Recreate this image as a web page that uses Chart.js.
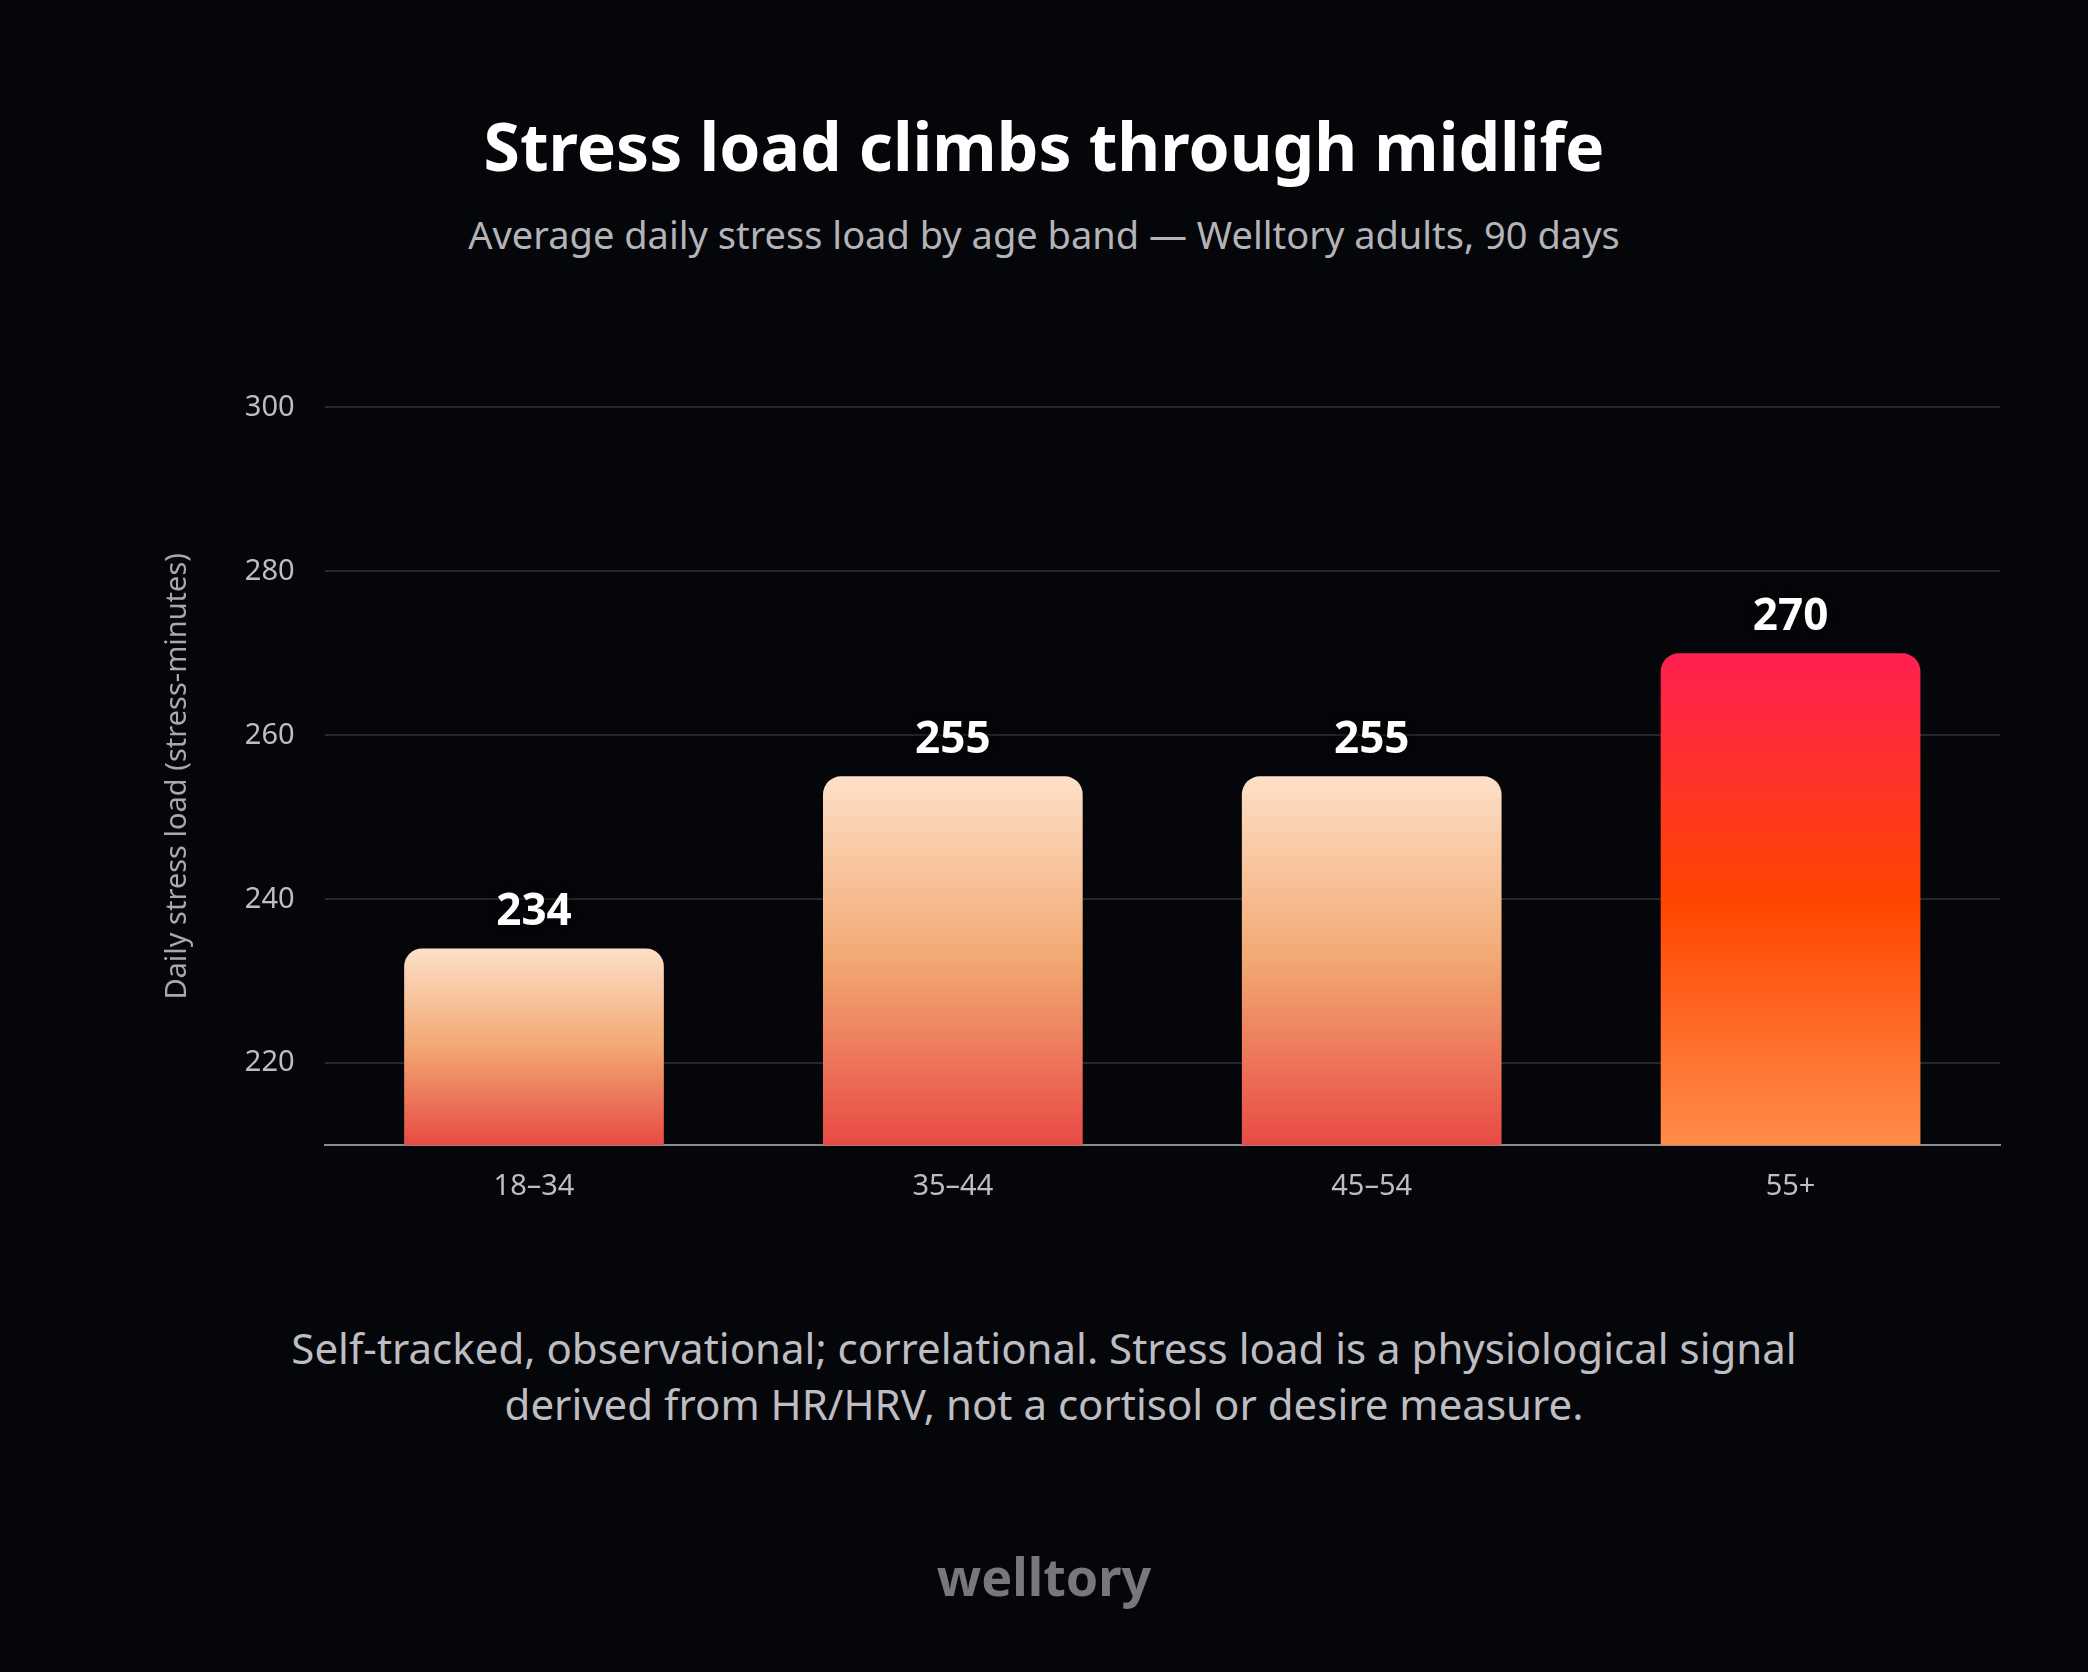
<!DOCTYPE html>
<html>
<head>
<meta charset="utf-8">
<script src="https://cdn.jsdelivr.net/npm/chart.js@4/dist/chart.umd.min.js"></script>
<style>
  body { margin:0; background:#05060a; width:2088px; height:1672px; overflow:hidden; font-family:"Noto Sans", sans-serif; }
  .t { position:absolute; left:0; width:2088px; text-align:center; }
  #title { top:100px; font-size:66px; font-weight:700; color:#fff; }
  #sub { top:208px; font-size:38px; color:#b4b4b8; }
  #foot { top:1320px; font-size:42px; color:#bdbdc2; line-height:56px; }
  #logo { top:1540px; font-size:52px; font-weight:700; color:#77777c; }
  #wrap { position:absolute; left:140px; top:360px; width:1880px; height:870px; }
</style>
</head>
<body>
<div class="t" id="title">Stress load climbs through midlife</div>
<div class="t" id="sub">Average daily stress load by age band — Welltory adults, 90 days</div>
<div id="wrap"><canvas id="c"></canvas></div>
<div class="t" id="foot">Self-tracked, observational; correlational. Stress load is a physiological signal<br>derived from HR/HRV, not a cortisol or desire measure.</div>
<div class="t" id="logo">welltory</div>
<script>
// donnees
var ageBands = ['18–34', '35–44', '45–54', '55+'];
var stressLoad = [234, 255, 255, 270];
var yTicks = [220, 240, 260, 280, 300];
var yMin = 210, yMax = 300;

function barGradient(c) {
	var chart = c.chart;
	if (!chart.chartArea) return '#f2a872';
	var y = chart.scales.y;
	var top = y.getPixelForValue(c.raw);
	var bottom = y.getPixelForValue(yMin);
	var g = chart.ctx.createLinearGradient(0, top, 0, bottom);
	if (c.dataIndex == 3) {
		g.addColorStop(0, '#ff1f52');
		g.addColorStop(0.5, '#ff4500');
		g.addColorStop(1, '#ff8c4a');
	} else {
		g.addColorStop(0, '#fde0c8');
		g.addColorStop(0.5, '#f2a872');
		g.addColorStop(1, '#e84a45');
	}
	return g;
}

// etiquettes de valeur au dessus des barres
var valueLabels = {
	id: 'valueLabels',
	afterDatasetsDraw(chart) {
		var ctx = chart.ctx;
		var meta = chart.getDatasetMeta(0);
		ctx.save();
		ctx.font = '700 44px "Noto Sans"';
		ctx.textAlign = 'center';
		ctx.textBaseline = 'bottom';
		ctx.fillStyle = '#fff';
		ctx.shadowColor = 'rgba(0,0,0,0.9)';
		ctx.shadowBlur = 12;
		meta.data.forEach(function(bar, i) {
			ctx.fillText(stressLoad[i], bar.x, bar.y - 14);
		});
		ctx.restore();
	}
};

new Chart(document.getElementById('c').getContext('2d'), {
	type: 'bar',
	data: {
		labels: ageBands,
		datasets: [{
			data: stressLoad,
			backgroundColor: barGradient,
			borderRadius: 18,
			borderSkipped: false,
			categoryPercentage: 0.62,
			barPercentage: 1
		}]
	},
	options: {
		responsive: true,
		maintainAspectRatio: false,
		animation: false,
		layout: { padding: { top: 20, right: 20, bottom: 10 } },
		plugins: { legend: { display: false }, tooltip: { enabled: false } },
		scales: {
			x: {
				grid: { display: false },
				border: { color: '#8a8a90', width: 2 },
				ticks: { color: '#bdbdc2', font: { size: 29, family: 'Noto Sans' }, padding: 16 }
			},
			y: {
				min: yMin, max: yMax,
				afterBuildTicks: function(s) { s.ticks = yTicks.map(function(v) { return { value: v }; }); },
				grid: { color: '#26272c', lineWidth: 2, drawTicks: false },
				border: { display: false },
				ticks: { color: '#bdbdc2', font: { size: 29, family: 'Noto Sans' }, padding: 30 },
				title: { display: true, text: 'Daily stress load (stress-minutes)', color: '#a8a8ae', font: { size: 29, family: 'Noto Sans' }, padding: 20 }
			}
		}
	},
	plugins: [valueLabels]
});
</script>
</body>
</html>
